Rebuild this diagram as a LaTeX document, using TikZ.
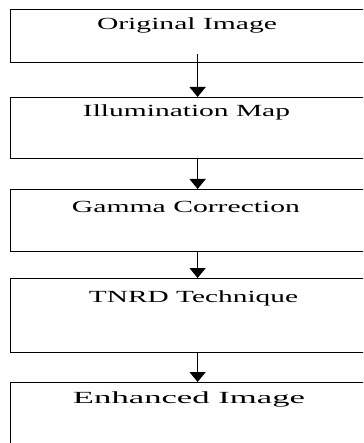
\documentclass[tikz,border=0pt]{standalone}
\usepackage{fontspec}
\setmainfont{Liberation Serif}
\usetikzlibrary{arrows.meta}
\tikzset{
  stagebox/.style={draw, line width=1.2pt, anchor=north west, minimum width=360pt, inner sep=0pt},
  stagetext/.style={anchor=base, inner sep=0pt, font=\fontsize{17}{19}\selectfont},
  flow/.style={line width=1.5pt, -{Triangle[width=16pt,length=10pt]}},
}
% stretch a label sideways to a given width
\newcommand{\widetext}[2]{\resizebox{#1pt}{\height}{#2}}

\begin{document}
\begin{tikzpicture}[x=1pt,y=-1pt]
  \useasboundingbox (0,0) rectangle (363,443);
  \clip (0,0) rectangle (363,443);

  % boxes
  \node[stagebox, minimum height=53pt] (orig) at (10,9) {};
  \node[stagebox, minimum height=61pt] (illum) at (10,97) {};
  \node[stagebox, minimum height=62pt] (gamma) at (10,189) {};
  \node[stagebox, minimum height=74pt] (tnrd) at (10,278) {};
  \node[stagebox, minimum height=80pt] (enh) at (10,382) {};

  % labels
  \node[stagetext] (origtxt) at (187,30) {\widetext{180}{Original Image}};
  \node[stagetext] (illumtxt) at (186.5,117) {\widetext{207}{Illumination Map}};
  \node[stagetext] (gammatxt) at (186,212) {\widetext{228}{Gamma Correction}};
  \node[stagetext] (tnrdtxt) at (193.5,302) {\widetext{209}{TNRD Technique}};
  \node[stagetext] (enhtxt) at (189,403) {\widetext{232}{Enhanced Image}};

  % arrows
  \draw[flow] ([xshift=7pt,yshift=9pt]orig.south) -- ([xshift=7pt]illum.north);
  \draw[flow] ([xshift=7pt]illum.south) -- ([xshift=7pt]gamma.north);
  \draw[flow] ([xshift=7pt]gamma.south) -- ([xshift=7pt]tnrd.north);
  \draw[flow] ([xshift=7pt]tnrd.south) -- ([xshift=7pt]enh.north);
\end{tikzpicture}
\end{document}
